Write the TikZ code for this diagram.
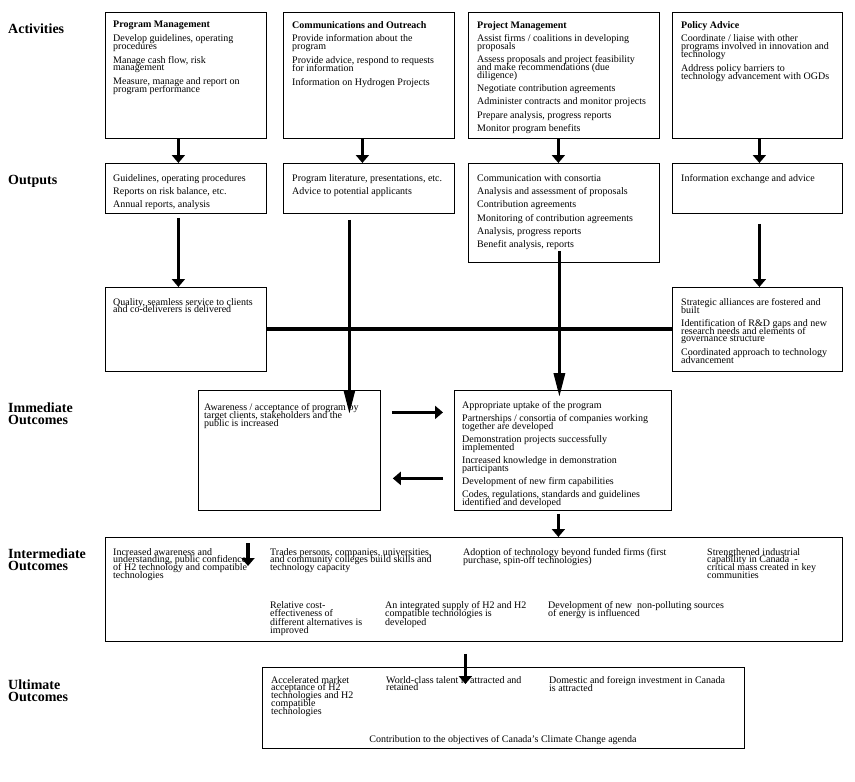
\documentclass[tikz,border=0pt]{standalone}
\usepackage{fontspec}
\setmainfont{Liberation Serif}
\usetikzlibrary{arrows.meta}
\lineskiplimit=-100pt
\lineskip=0pt
\newcommand{\tightls}{\lineskiplimit=-100pt\lineskip=0pt\relax}
\begin{document}
\begin{tikzpicture}[x=1pt,y=-1pt,
  box/.style={draw,line width=0.8pt,inner sep=0pt,anchor=north west},
  txt/.style={anchor=north west,inner sep=0pt,align=left,font=\fontsize{10}{7.8}\selectfont\tightls},
  lbl/.style={anchor=north west,inner sep=0pt,align=left,font=\fontsize{14}{12.5}\selectfont\bfseries\tightls},
  arr/.style={line width=3.3pt,-{Triangle[length=8pt,width=13pt]}},
  longarr/.style={line width=3.3pt,-{Triangle[length=24pt,width=11pt]}},
  bar/.style={line width=4pt}]
\useasboundingbox (0,0) rectangle (855,782);
\fill[white] (0,0) rectangle (855,782);

% labels (y = baseline of first line - 9.8)
\node[lbl] (lact) at (8,23.2) {Activities};
\node[lbl] (lout) at (8,175.2) {Outputs};
\node[lbl] (limm) at (8,402.2) {Immediate\\Outcomes};
\node[lbl] (lint) at (8,548.2) {Intermediate\\Outcomes};
\node[lbl] (lult) at (8,679.2) {Ultimate\\Outcomes};

% activity boxes
\node[box,minimum width=161pt,minimum height=126pt] (pmA) at (105,12) {};
\node[box,minimum width=171pt,minimum height=126pt] (coA) at (283,12) {};
\node[box,minimum width=191pt,minimum height=126pt] (pjA) at (468,12) {};
\node[box,minimum width=170pt,minimum height=126pt] (paA) at (672,12) {};

% texts (y = baseline of first line - 7)
\node[txt] (pmAt) at (113,21) {\textbf{Program Management}\\[6pt]
Develop guidelines, operating\\procedures\\[6pt]
Manage cash flow, risk\\management\\[6pt]
Measure, manage and report on\\program performance};
\node[txt] (coAt) at (292,21) {\textbf{Communications and Outreach}\\[6pt]
Provide information about the\\program\\[6pt]
Provide advice, respond to requests\\for information\\[6pt]
Information on Hydrogen Projects};
\node[txt] (pjAt) at (477,21) {\textbf{Project Management}\\[5.5pt]
Assist firms / coalitions in developing\\proposals\\[5.5pt]
Assess proposals and project feasibility\\and make recommendations (due\\diligence)\\[5.5pt]
Negotiate contribution agreements\\[5.5pt]
Administer contracts and monitor projects\\[5.5pt]
Prepare analysis, progress reports\\[5.5pt]
Monitor program benefits};
\node[txt] (paAt) at (681,21) {\textbf{Policy Advice}\\[6pt]
Coordinate / liaise with other\\programs involved in innovation and\\technology\\[6pt]
Address policy barriers to\\technology advancement with OGDs};

% output boxes
\node[box,minimum width=161pt,minimum height=50pt] (pmO) at (105,163) {};
\node[box,minimum width=171pt,minimum height=50pt] (coO) at (283,163) {};
\node[box,minimum width=191pt,minimum height=99pt] (pjO) at (468,163) {};
\node[box,minimum width=170pt,minimum height=50pt] (paO) at (672,163) {};

\node[txt] (pmOt) at (113,174) {Guidelines, operating procedures\\[5.5pt]
Reports on risk balance, etc.\\[5.5pt]
Annual reports, analysis};
\node[txt] (coOt) at (292,174) {Program literature, presentations, etc.\\[5.5pt]
Advice to potential applicants};
\node[txt] (pjOt) at (477,174) {Communication with consortia\\[5.5pt]
Analysis and assessment of proposals\\[5.5pt]
Contribution agreements\\[5.5pt]
Monitoring of contribution agreements\\[5.5pt]
Analysis, progress reports\\[5.5pt]
Benefit analysis, reports};
\node[txt] (paOt) at (681,174) {Information exchange and advice};

% second outputs row
\node[box,minimum width=161pt,minimum height=84pt] (qual) at (105,287) {};
\node[box,minimum width=170pt,minimum height=84pt] (strat) at (672,287) {};
\node[txt] (qualt) at (113,298) {Quality, seamless service to clients\\and co-deliverers is delivered};
\node[txt] (stratt) at (681,298) {Strategic alliances are fostered and\\built\\[5.5pt]
Identification of R\&D gaps and new\\research needs and elements of\\governance structure\\[5.5pt]
Coordinated approach to technology\\advancement};

% immediate outcomes
\node[box,minimum width=182pt,minimum height=120pt] (aware) at (198,390) {};
\node[box,minimum width=217pt,minimum height=120pt] (approp) at (454,390) {};
\node[txt,font=\fontsize{10}{8}\selectfont\tightls] (awaret) at (204,403) {Awareness / acceptance of program by\\target clients, stakeholders and the\\public is increased};
\node[txt,font=\fontsize{10}{8}\selectfont\tightls] (appropt) at (462,401) {Appropriate uptake of the program\\[5pt]
Partnerships / consortia of companies working\\together are developed\\[5pt]
Demonstration projects successfully\\implemented\\[5pt]
Increased knowledge in demonstration\\participants\\[5pt]
Development of new firm capabilities\\[5pt]
Codes, regulations, standards and guidelines\\identified and developed};

% intermediate outcomes
\node[box,minimum width=737pt,minimum height=104pt] (inter) at (105,537) {};
\node[txt] (i1) at (113,548) {Increased awareness and\\understanding, public confidence\\of H2 technology and compatible\\technologies};
\node[txt] (i2) at (270,548) {Trades persons, companies, universities,\\and community colleges build skills and\\technology capacity};
\node[txt] (i3) at (463,548) {Adoption of technology beyond funded firms (first\\purchase, spin-off technologies)};
\node[txt] (i4) at (707,548) {Strengthened industrial\\capability in Canada\ \ -\\critical mass created in key\\communities};
\node[txt,font=\fontsize{10}{8.5}\selectfont\tightls] (i5) at (270,601) {Relative cost-\\effectiveness of\\different alternatives is\\improved};
\node[txt,font=\fontsize{10}{8.5}\selectfont\tightls] (i6) at (385,601) {An integrated supply of H2 and H2\\compatible technologies is\\developed};
\node[txt,font=\fontsize{10}{8.5}\selectfont\tightls] (i7) at (548,601) {Development of new\ \ non-polluting sources\\of energy is influenced};

% ultimate outcomes
\node[box,minimum width=482pt,minimum height=81pt] (ult) at (262,667) {};
\node[txt] (u1) at (271,676) {Accelerated market\\acceptance of H2\\technologies and H2\\compatible\\technologies};
\node[txt] (u2) at (386,676) {World-class talent is attracted and\\retained};
\node[txt] (u3) at (549,676) {Domestic and foreign investment in Canada\\is attracted};
\node[anchor=base,inner sep=0pt,font=\fontsize{10}{8}\selectfont] (u4) at (503,742) {Contribution to the objectives of Canada's Climate Change agenda};

% connectors
\draw[arr] ([xshift=-7.5pt]pmA.south) -- ([xshift=-7.5pt]pmO.north);
\draw[arr] ([xshift=-6.5pt]coA.south) -- ([xshift=-6.5pt]coO.north);
\draw[arr] ([xshift=-5.5pt]pjA.south) -- ([xshift=-5.5pt]pjO.north);
\draw[arr] ([xshift=2pt]paA.south) -- ([xshift=2pt]paO.north);
\draw[arr] ([xshift=-7.5pt,yshift=-4pt]pmO.south) -- ([xshift=-7.5pt]qual.north);
\draw[arr] ([xshift=2pt,yshift=-10pt]paO.south) -- ([xshift=2pt]strat.north);
\draw[bar] (qual.east) -- (strat.west);
\draw[longarr] ([xshift=-19.5pt,yshift=-6pt]coO.south) -- ([xshift=60pt,yshift=-24pt]aware.north);
\draw[longarr] ([xshift=-4.5pt,yshift=12pt]pjO.south) -- ([xshift=-3.5pt,yshift=-7pt]approp.north);
\draw[arr] ([xshift=11pt,yshift=38pt]aware.east) -- ([xshift=-11pt,yshift=38pt]approp.west);
\draw[arr] ([xshift=-11pt,yshift=-28pt]approp.west) -- ([xshift=12pt,yshift=-28pt]aware.east);
\draw[arr] ([xshift=-4.5pt,yshift=-3pt]approp.south) -- ([xshift=84.5pt]inter.north);
\draw[arr] ([xshift=143pt,yshift=-6pt]inter.north west) -- ([xshift=143pt,yshift=-29pt]inter.north west);
\draw[arr] ([xshift=-8.5pt,yshift=-12pt]inter.south) -- ([xshift=-38pt,yshift=-17pt]ult.north);
\end{tikzpicture}
\end{document}
